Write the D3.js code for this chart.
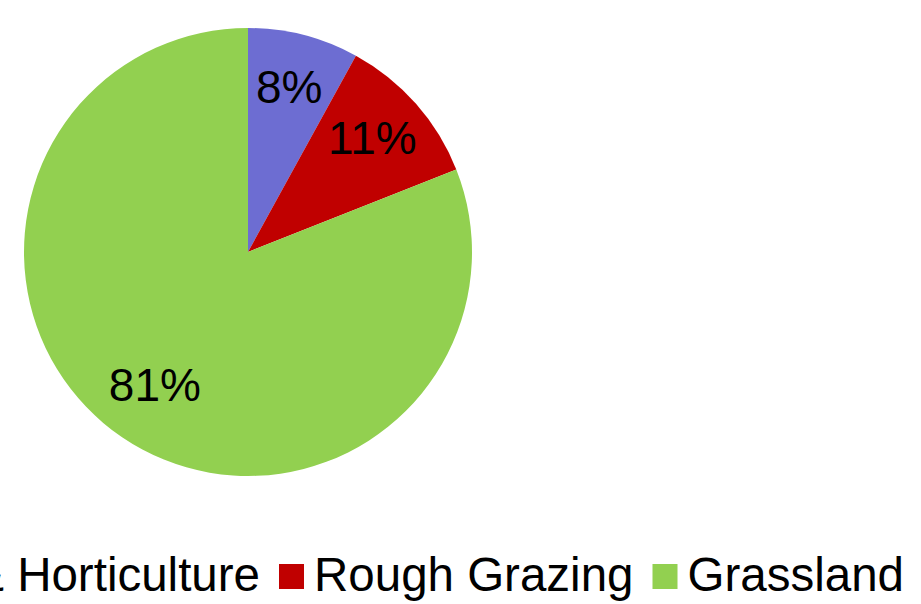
<!DOCTYPE html>
<html>
<head>
<meta charset="utf-8">
<script src="https://cdn.jsdelivr.net/npm/d3@7"></script>
<style>
  body { margin: 0; background: #fff; }
  text { font-family: "Liberation Sans", Arial, sans-serif; fill: #000; }
</style>
</head>
<body>
<div id="chart"></div>
<script>
// data
var categories = ["Crops & Horticulture", "Rough Grazing", "Grassland"];
var values = [8, 11, 81];
var colors = ["#6D6DD2", "#C00000", "#92D050"];

var width = 921, height = 604;
var cx = 248, cy = 252, radius = 224;

var svg = d3.select("#chart").append("svg")
    .attr("width", width)
    .attr("height", height);

var data = categories.map(function(c, i) { return {name: c, value: values[i], color: colors[i]}; });

var pie = d3.pie()
    .sort(null)
    .value(function(d) { return d.value; });

var arc = d3.arc().innerRadius(0).outerRadius(radius);
var labelArc = d3.arc().innerRadius(radius * 0.74).outerRadius(radius * 0.74);

var g = svg.append("g")
    .attr("transform", "translate(" + cx + "," + cy + ")");

var arcs = pie(data);

g.selectAll("path")
    .data(arcs)
  .enter().append("path")
    .attr("d", arc)
    .attr("fill", function(d) { return d.data.color; });

// percent labels
g.selectAll("text.pct")
    .data(arcs)
  .enter().append("text")
    .attr("class", "pct")
    .attr("transform", function(d) { return "translate(" + labelArc.centroid(d) + ")"; })
    .attr("text-anchor", "middle")
    .attr("dy", "0.25em")
    .style("font-size", "46px")
    .text(function(d) { return d.data.value + "%"; });

// legend
var legend = svg.append("g");
var sw = 25, gapText = 10, gapItem = 19, fs = 47.5;
var xpos = 0, starts = [];
data.forEach(function(d) {
  var item = legend.append("g").attr("transform", "translate(" + xpos + ",0)");
  starts.push(xpos);
  item.append("rect")
      .attr("x", 0).attr("y", -27)
      .attr("width", sw).attr("height", sw)
      .attr("fill", d.color);
  var t = item.append("text")
      .attr("x", sw + gapText)
      .attr("y", 0)
      .style("font-size", fs + "px")
      .text(d.name);
  xpos += sw + gapText + t.node().getComputedTextLength() + gapItem;
});
// shift so the legend lines up with the chart (first item runs off the left edge)
legend.attr("transform", "translate(" + (279 - starts[1]) + ",591)");
</script>
</body>
</html>
